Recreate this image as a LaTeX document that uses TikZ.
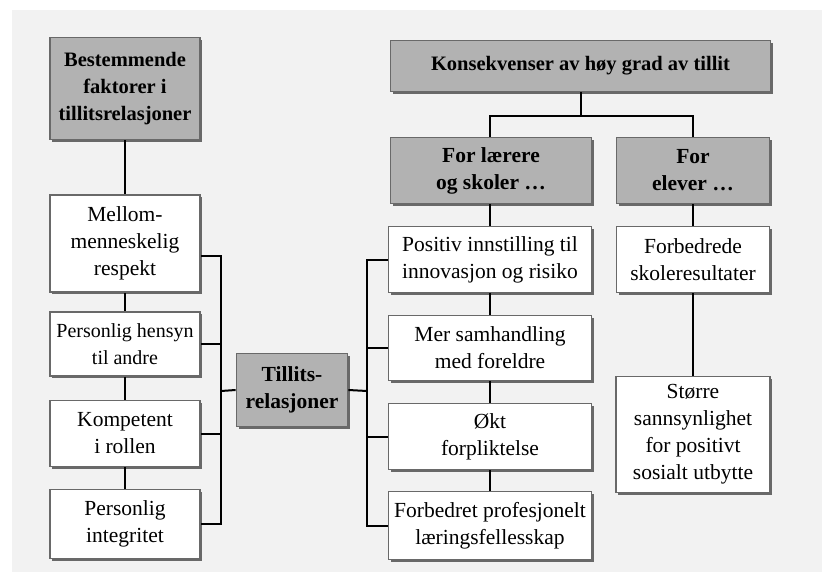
\documentclass[tikz,border=0pt]{standalone}
\usepackage{fontspec}
\setmainfont{Liberation Serif}
\usetikzlibrary{shadows}
\definecolor{paper}{RGB}{242,242,242}
\definecolor{headfill}{RGB}{178,178,178}
\definecolor{frame}{RGB}{105,105,105}
\tikzset{
  base/.style={draw=frame, line width=1.8pt, align=center, inner sep=1pt,
    drop shadow={shadow xshift=2.2pt, shadow yshift=-2.2pt, fill=frame, opacity=1}},
  plainbox/.style={base, fill=white, font=\fontsize{21.5}{27}\selectfont},
  headbox/.style={base, fill=headfill, font=\fontsize{21.5}{27}\selectfont\bfseries},
  link/.style={draw=black, line width=2pt}
}
\begin{document}
\begin{tikzpicture}[x=1pt,y=-1pt]
  % page
  \fill[white] (0,0) rectangle (822,572);
  \fill[paper] (12,10) rectangle (822,572);
  \useasboundingbox (0,0) rectangle (822,572);

  % left column
  \node[headbox, minimum width=150, minimum height=102,
        font=\fontsize{20.5}{27}\selectfont\bfseries] (best) at (125,88.5)
    {Bestemmende\\faktorer i\\tillitsrelasjoner};
  \node[plainbox, minimum width=150, minimum height=97] (mell) at (125,243.5)
    {Mellom-\\menneskelig\\respekt};
  \node[plainbox, minimum width=150, minimum height=64,
        font=\fontsize{20}{27}\selectfont] (pers) at (125,344)
    {Personlig hensyn\\til andre};
  \node[plainbox, minimum width=150, minimum height=66] (komp) at (125,433.5)
    {Kompetent\\i rollen};
  \node[plainbox, minimum width=150, minimum height=69] (integ) at (125,524)
    {Personlig\\integritet};

  % centre
  \node[headbox, minimum width=111, minimum height=73] (till) at (292,390)
    {Tillits-\\relasjoner};

  % right part
  \node[headbox, minimum width=380, minimum height=51,
        font=\fontsize{20.5}{27}\selectfont\bfseries] (kons) at (580.5,66)
    {Konsekvenser av høy grad av tillit};
  \node[headbox, minimum width=201, minimum height=66] (larer) at (491,170.5)
    {For lærere\\og skoler \dots};
  \node[headbox, minimum width=153, minimum height=66] (elev) at (693,170.5)
    {For\\elever \dots};
  \node[plainbox, minimum width=203, minimum height=66] (posi) at (490,259.5)
    {Positiv innstilling til\\innovasjon og risiko};
  \node[plainbox, minimum width=203, minimum height=65] (mer) at (490,348)
    {Mer samhandling\\med foreldre};
  \node[plainbox, minimum width=203, minimum height=66] (okt) at (490,436.5)
    {Økt\\forpliktelse};
  \node[plainbox, minimum width=203, minimum height=68] (forb) at (490,525.5)
    {Forbedret profesjonelt\\læringsfellesskap};
  \node[plainbox, minimum width=153, minimum height=66] (skole) at (693,259.5)
    {Forbedrede\\skoleresultater};
  \node[plainbox, minimum width=154, minimum height=116] (storre) at (693,434.5)
    {Større\\sannsynlighet\\for positivt\\sosialt utbytte};

  \coordinate (bl) at (221,391);
  \coordinate (br) at (367,391);
  \coordinate (fork) at (580.5,116);

  % left column chain
  \draw[link] (best.south) -- (mell.north);
  \draw[link] (mell.south) -- (pers.north);
  \draw[link] (pers.south) -- (komp.north);
  \draw[link] (komp.south) -- (integ.north);

  % left bracket into the centre box
  \draw[link] ([yshift=-13pt]mell.east) -| (integ.east -| bl) -- (integ.east);
  \draw[link] (pers.east) -- (pers.east -| bl);
  \draw[link] (komp.east) -- (komp.east -| bl);
  \draw[link] (bl) -- (till.west);

  % right bracket out of the centre box
  \draw[link] (till.east) -- (br);
  \draw[link] (posi.west) -| (forb.west -| br) -- (forb.west);
  \draw[link] (mer.west) -- (mer.west -| br);
  \draw[link] (okt.west) -- (okt.west -| br);

  % consequences tree
  \draw[link] (kons.south) -- (fork);
  \draw[link] (larer.north -| posi) |- (fork) -| (elev.north);
  \draw[link] (larer.south -| posi) -- (posi.north);
  \draw[link] (posi.south) -- (mer.north);
  \draw[link] (mer.south) -- (okt.north);
  \draw[link] (okt.south) -- (forb.north);
  \draw[link] (elev.south) -- (skole.north);
  \draw[link] (skole.south) -- (storre.north);
\end{tikzpicture}
\end{document}
